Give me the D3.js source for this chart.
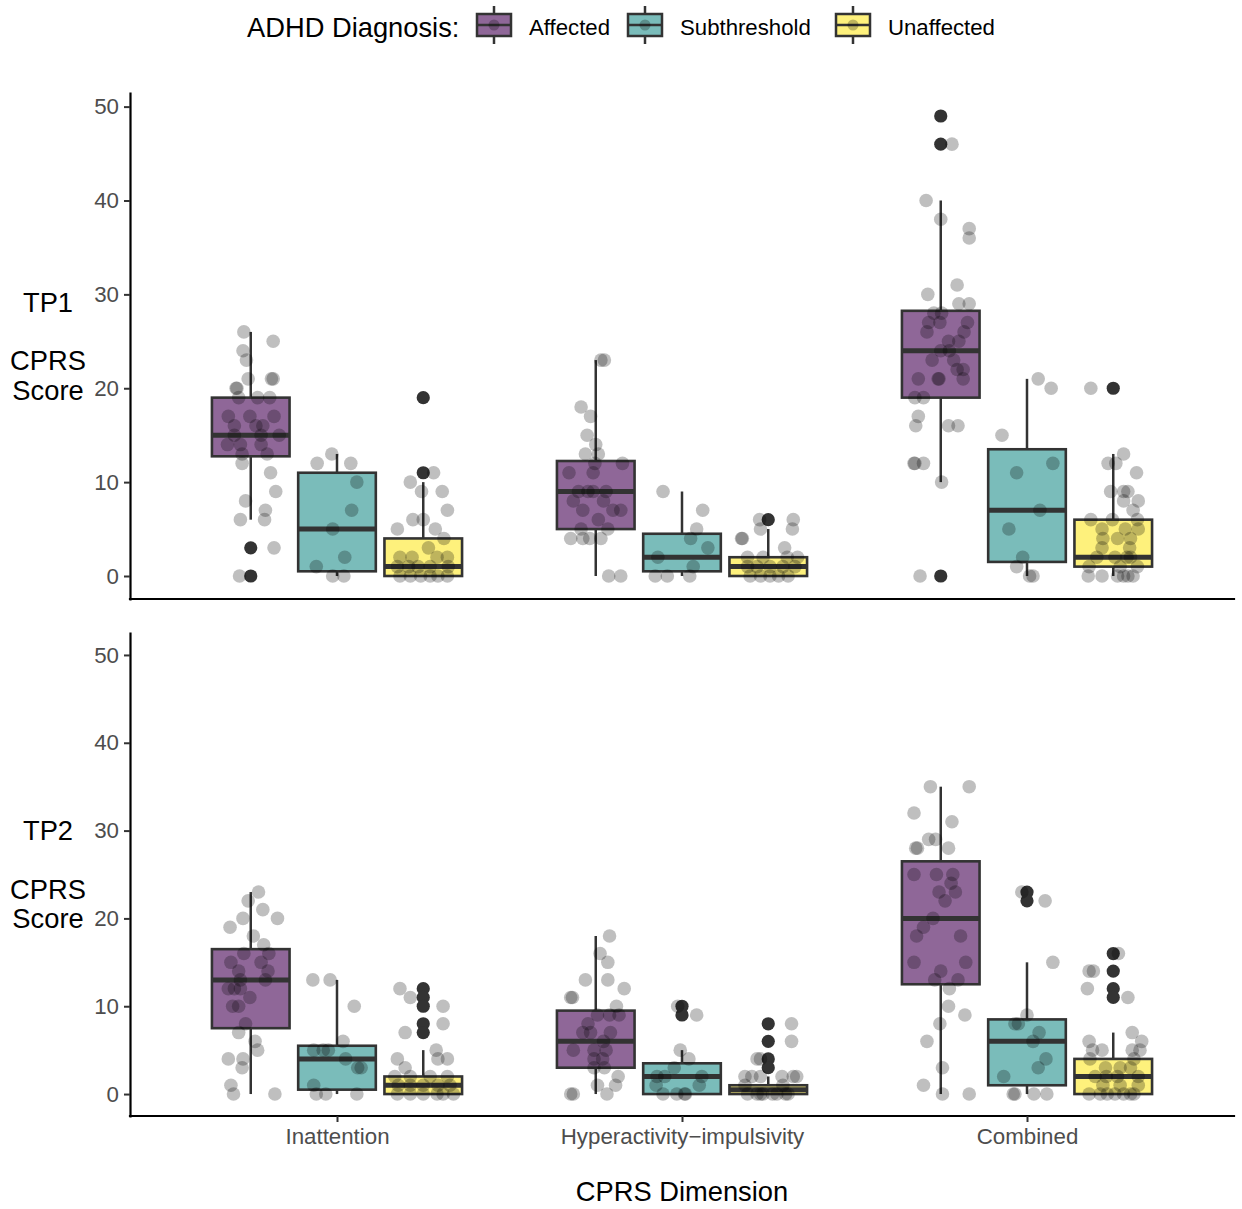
<!DOCTYPE html>
<html><head><meta charset="utf-8">
<script src="https://cdn.jsdelivr.net/npm/d3@7"></script>
<style>
body{margin:0;background:#fff}
svg{display:block}
text{font-family:"Liberation Sans",Arial,Helvetica,sans-serif}
</style>
</head><body>
<svg id="chart" width="1242" height="1209"></svg>
<script>
// ---------------- DATA ----------------
const categories = ["Inattention", "Hyperactivity\u2212impulsivity", "Combined"];
const groups = ["Affected", "Subthreshold", "Unaffected"];
const groupColors = ["#440154", "#21908C", "#FDE725"];
const timepoints = ["TP1", "TP2"];
const yTicks = [0, 10, 20, 30, 40, 50];

// box stats [lower whisker, q1, median, q3, upper whisker], order: category x group
const tp1Boxes = [
  [6, 12.75, 15, 19, 26], [0, 0.5, 5, 11, 13], [0, 0, 1, 4, 10],
  [0, 5, 9, 12.25, 23], [0, 0.5, 2, 4.5, 9], [0, 0, 1, 2, 5],
  [10, 19, 24, 28.25, 40], [0, 1.5, 7, 13.5, 21], [0, 1, 2, 6, 13]
];
const tp2Boxes = [
  [0, 7.5, 13, 16.5, 23], [0, 0.5, 4, 5.5, 13], [0, 0, 1, 2, 5],
  [0, 3, 6, 9.5, 18], [0, 0, 2, 3.5, 5], [0, 0, 0.5, 1, 2],
  [0, 12.5, 20, 26.5, 35], [0, 1, 6, 8.5, 15], [0, 0, 2, 4, 7]
];
const tp1Outliers = [[3, 0], [], [19, 11], [], [], [6], [49, 46, 0], [], [20]];
const tp2Outliers = [[], [], [12, 11, 10, 8, 7], [], [10, 9], [8, 6, 4, 3], [], [23, 22], [16, 14, 12, 11]];

// individual scores [value, jitter (fraction of dodge slot)]
const tp1InattentionAffected = [[26,-0.08],[25,0.26],[24,-0.09],[23,-0.05],[21,-0.03],[21,0.24],[21,0.26],[20,-0.17],[20,-0.16],[19,-0.14],[19,0.08],[19,0.22],[17,-0.26],[17,-0.01],[17,0.27],[16,-0.19],[16,0.06],[16,0.14],[15,-0.19],[15,0.12],[15,0.33],[14,-0.27],[14,-0.12],[14,0.12],[13,-0.10],[13,0.19],[12,-0.10],[11,0.23],[9,0.29],[8,-0.06],[7,0.17],[6,-0.12],[6,0.16],[3,0.27],[0,-0.13]];
const tp1InattentionSub = [[13,-0.06],[12,-0.23],[12,0.16],[10,0.23],[7,0.17],[5,-0.05],[2,0.09],[1,-0.24],[0,-0.05],[0,0.08]];
const tp1InattentionUnaff = [[11,0.12],[10,-0.15],[9,-0.02],[9,0.22],[7,0.28],[6,-0.12],[6,0],[5,-0.30],[5,0.14],[4,0.24],[3,0.06],[2,-0.27],[2,-0.13],[2,0.16],[2,0.28],[1,-0.30],[1,-0.17],[1,-0.06],[1,0.08],[1,0.29],[0,-0.27],[0,-0.15],[0,-0.03],[0,0.08],[0,0.17],[0,0.28]];
const tp1HyperAffected = [[23,0.06],[23,0.10],[18,-0.17],[17,-0.06],[15,-0.10],[14,0],[13,-0.12],[13,0.03],[12,-0.01],[12,0.31],[11,-0.31],[11,-0.03],[9,-0.20],[9,-0.09],[9,-0.03],[9,0.12],[8,-0.26],[8,0.09],[7,0.20],[7,0.29],[7,-0.15],[6,0.03],[5,-0.17],[5,0.14],[4,-0.29],[4,-0.15],[4,-0.07],[4,0.06],[0,0.15],[0,0.29]];
const tp1HyperSub = [[9,-0.22],[7,0.24],[5,0.17],[4,0.10],[3,0.30],[2,-0.28],[1,0.13],[0,-0.31],[0,-0.17],[0,0.09]];
const tp1HyperUnaff = [[6,-0.10],[6,0.29],[5,-0.09],[5,0.28],[4,-0.31],[4,-0.30],[3,0.19],[2,-0.24],[2,-0.06],[2,0.22],[2,0.34],[1,-0.24],[1,-0.13],[1,0.02],[1,0.17],[1,0.31],[0,-0.21],[0,-0.09],[0,0.02],[0,0.12],[0,0.23]];
const tp1CombinedAffected = [[46,0.13],[40,-0.17],[38,0],[37,0.33],[36,0.33],[31,0.19],[30,-0.15],[29,0.21],[29,0.33],[28,-0.08],[28,0.01],[27,-0.14],[27,-0.01],[27,0.31],[26,-0.16],[26,0.27],[25,0.09],[25,0.21],[24,0],[24,0.10],[23,-0.10],[23,0.15],[22,0.19],[22,0.26],[21,-0.26],[21,-0.03],[21,-0.02],[21,0.26],[19,-0.30],[19,-0.20],[17,-0.26],[16,-0.29],[16,0.09],[16,0.20],[12,-0.31],[12,-0.30],[12,-0.20],[10,0.01],[0,-0.24]];
const tp1CombinedSub = [[21,0.13],[20,0.28],[15,-0.29],[12,0.30],[11,-0.12],[7,0.15],[5,-0.21],[2,-0.05],[1,-0.12],[0,0.03],[0,0.07]];
const tp1CombinedUnaff = [[20,-0.26],[13,0.12],[12,-0.06],[12,0.03],[11,0.27],[9,-0.03],[9,0.12],[9,0.17],[8,0.12],[8,0.29],[7,0.23],[6,-0.26],[6,-0.01],[6,0.28],[5,-0.13],[5,0.14],[5,0.29],[4,-0.12],[4,0.05],[4,0.20],[3,-0.13],[3,0.19],[2,-0.19],[2,0.02],[2,0.16],[2,0.20],[1,-0.28],[1,0.08],[1,0.28],[0,-0.29],[0,-0.13],[0,0.05],[0,0.12],[0,0.17],[0,0.23]];

const tp2InattentionAffected = [[23,0.09],[22,-0.03],[21,0.14],[20,-0.09],[20,0.31],[19,-0.24],[18,0.03],[17,0.15],[16,-0.08],[16,0.21],[15,-0.23],[15,0.12],[14,-0.14],[14,0.20],[13,-0.12],[13,0.17],[12,-0.26],[12,-0.19],[12,-0.12],[11,-0.01],[10,-0.21],[10,-0.14],[8,-0.06],[7,-0.14],[6,0.05],[5,0.08],[4,-0.26],[4,-0.09],[3,-0.10],[1,-0.23],[0,-0.20],[0,0.28]];
const tp2InattentionSub = [[13,-0.28],[13,-0.08],[10,0.20],[6,0.07],[5,-0.27],[5,-0.16],[5,-0.10],[4,0.10],[3,0.24],[3,0.28],[1,-0.27],[0,-0.24],[0,-0.13],[0,0.23]];
const tp2InattentionUnaff = [[12,-0.27],[11,-0.15],[10,0.23],[8,0.23],[7,-0.21],[5,0.15],[4,-0.30],[4,0.17],[4,0.28],[3,-0.21],[2,-0.33],[2,-0.15],[2,0.08],[2,0.28],[1,-0.29],[1,-0.15],[1,0],[1,0.17],[1,0.31],[0,-0.30],[0,-0.15],[0,0],[0,0.16],[0,0.23],[0,0.35]];
const tp2HyperAffected = [[18,0.16],[16,0.05],[15,0.14],[13,-0.12],[13,0.14],[12,0.33],[11,-0.29],[11,-0.27],[10,0.24],[9,0.02],[9,0.16],[9,0.27],[8,-0.09],[7,-0.15],[7,-0.06],[7,0.17],[6,0.09],[5,-0.26],[5,-0.02],[5,0.12],[4,-0.02],[4,0.08],[3,-0.02],[3,0.10],[2,0.26],[1,0.02],[1,0.23],[0,-0.29],[0,-0.26],[0,0.13]];
const tp2HyperSub = [[10,-0.05],[9,0.17],[5,-0.02],[4,0.08],[3,-0.09],[2,-0.29],[2,-0.20],[2,0.23],[1,-0.30],[1,0.20],[0,-0.22],[0,-0.06],[0,0.03],[0,0.04]];
const tp2HyperUnaff = [[8,0.27],[6,0.27],[4,-0.13],[4,-0.09],[2,-0.27],[2,-0.19],[2,-0.09],[2,0.16],[2,0.29],[2,0.33],[1,-0.27],[1,0.17],[0,-0.24],[0,-0.13],[0,-0.09],[0,-0.06],[0,0.05],[0,0.10],[0,0.20],[0,0.23]];
const tp2CombinedAffected = [[35,-0.12],[35,0.33],[32,-0.31],[31,0.13],[29,-0.14],[29,-0.06],[28,-0.29],[28,-0.27],[28,0.09],[25,-0.31],[25,-0.05],[25,0.14],[24,0.12],[23,0.17],[23,-0.02],[22,0.05],[20,-0.09],[19,-0.20],[18,-0.28],[18,0.23],[15,-0.31],[15,0.29],[14,0],[13,-0.07],[13,0.20],[12,0.10],[10,0.09],[9,0.28],[8,-0.01],[6,-0.16],[3,0.02],[1,-0.20],[0,0.02],[0,0.33]];
const tp2CombinedSub = [[23,-0.06],[22,0.21],[15,0.30],[9,0],[8,-0.14],[8,-0.10],[7,0.14],[6,0.07],[4,0.22],[3,0.13],[2,-0.27],[0,-0.16],[0,-0.14],[0,0.08],[0,0.23]];
const tp2CombinedUnaff = [[16,0.06],[14,-0.28],[14,-0.23],[12,-0.30],[11,0.17],[7,0.22],[6,-0.28],[6,0.33],[5,-0.24],[5,-0.13],[5,0.22],[5,0.31],[4,-0.27],[4,0.24],[3,-0.09],[3,0.08],[3,0.20],[2,-0.21],[2,-0.08],[2,0.05],[2,0.29],[1,-0.12],[1,0.08],[1,0.29],[0,-0.28],[0,-0.15],[0,-0.07],[0,0.02],[0,0.12],[0,0.20],[0,0.24]];

const tp1Points = [tp1InattentionAffected, tp1InattentionSub, tp1InattentionUnaff, tp1HyperAffected, tp1HyperSub, tp1HyperUnaff, tp1CombinedAffected, tp1CombinedSub, tp1CombinedUnaff];
const tp2Points = [tp2InattentionAffected, tp2InattentionSub, tp2InattentionUnaff, tp2HyperAffected, tp2HyperSub, tp2HyperUnaff, tp2CombinedAffected, tp2CombinedSub, tp2CombinedUnaff];

// ---------------- LAYOUT ----------------
const FONT_AX = 22.3, FONT_TITLE = 27.3, FONT_LEG = 22.2;
const DARK = "#333333", TICKTXT = "#4D4D4D";
const svg = d3.select("#chart");
const plotLeft = 130, plotRight = 1234;

const x = d3.scalePoint().domain(categories).range([plotLeft, plotRight]).padding(0.6);
const dodge = x.step() * 0.75;
const xg = d3.scaleBand().domain(groups).range([-dodge / 2, dodge / 2]);
const slot = xg.bandwidth();
const boxW = slot * 0.9;

const panels = [
  {tp: timepoints[0], top: 93, bottom: 599, domain: [-2.45, 51.45], boxes: tp1Boxes, outliers: tp1Outliers, points: tp1Points, xLabels: false},
  {tp: timepoints[1], top: 633, bottom: 1116, domain: [-2.5, 52.5], boxes: tp2Boxes, outliers: tp2Outliers, points: tp2Points, xLabels: true}
];

panels.forEach(p => {
  const y = d3.scaleLinear().domain(p.domain).range([p.bottom, p.top]);
  const g = svg.append("g");

  // boxes
  categories.forEach((cat, ci) => {
    groups.forEach((grp, gi) => {
      const k = ci * groups.length + gi;
      const [lo, q1, med, q3, hi] = p.boxes[k];
      const cx = x(cat) + xg(grp) + slot / 2;
      const bg = g.append("g");
      bg.append("line").attr("x1", cx).attr("x2", cx).attr("y1", y(hi)).attr("y2", y(q3))
        .attr("stroke", DARK).attr("stroke-width", 2.5);
      bg.append("line").attr("x1", cx).attr("x2", cx).attr("y1", y(q1)).attr("y2", y(lo))
        .attr("stroke", DARK).attr("stroke-width", 2.5);
      bg.append("rect").attr("x", cx - boxW / 2).attr("y", y(q3))
        .attr("width", boxW).attr("height", Math.max(0, y(q1) - y(q3)))
        .attr("fill", groupColors[gi]).attr("fill-opacity", 0.6)
        .attr("stroke", DARK).attr("stroke-width", 2.6);
      bg.append("line").attr("x1", cx - boxW / 2).attr("x2", cx + boxW / 2)
        .attr("y1", y(med)).attr("y2", y(med)).attr("stroke", DARK).attr("stroke-width", 5);
      bg.selectAll("circle.out").data(p.outliers[k]).enter().append("circle")
        .attr("class", "out").attr("cx", cx).attr("cy", d => y(d)).attr("r", 6.6).attr("fill", DARK);
    });
  });
  // jittered points
  categories.forEach((cat, ci) => {
    groups.forEach((grp, gi) => {
      const k = ci * groups.length + gi;
      const cx = x(cat) + xg(grp) + slot / 2;
      g.append("g").selectAll("circle").data(p.points[k]).enter().append("circle")
        .attr("cx", d => cx + d[1] * slot).attr("cy", d => y(d[0])).attr("r", 6.8)
        .attr("fill", "#000").attr("fill-opacity", 0.25);
    });
  });

  // y axis
  const ya = svg.append("g").attr("transform", `translate(${plotLeft},0)`)
    .call(d3.axisLeft(y).tickValues(yTicks).tickSize(6).tickSizeOuter(0).tickPadding(5));
  ya.select(".domain").attr("stroke", "#000").attr("stroke-width", 2.2).attr("stroke-linecap", "square");
  ya.selectAll(".tick line").attr("stroke", DARK).attr("stroke-width", 2);
  ya.selectAll(".tick text").attr("fill", TICKTXT).style("font-size", FONT_AX + "px")
    .style("font-family", '"Liberation Sans",Arial,sans-serif');

  // x axis
  const xa = svg.append("g").attr("transform", `translate(0,${p.bottom})`)
    .call(d3.axisBottom(x).tickSize(p.xLabels ? 6 : 0).tickSizeOuter(0).tickPadding(6));
  xa.select(".domain").attr("d", `M${plotLeft},0H${plotRight}`)
    .attr("stroke", "#000").attr("stroke-width", 2.2).attr("stroke-linecap", "square");
  xa.selectAll(".tick line").attr("stroke", DARK).attr("stroke-width", 2);
  xa.selectAll(".tick text").attr("fill", TICKTXT).style("font-size", FONT_AX + "px")
    .style("font-family", '"Liberation Sans",Arial,sans-serif')
    .style("display", p.xLabels ? null : "none");

  // y title (multi-line)
  const lines = [p.tp, "", "CPRS", "Score"];
  const lh = 29.3;
  const mid = (p.top + p.bottom) / 2;
  const t = svg.append("text").attr("text-anchor", "middle").attr("fill", "#000")
    .style("font-size", FONT_TITLE + "px");
  lines.forEach((ln, i) => {
    t.append("tspan").attr("x", 48).attr("y", mid + (i - (lines.length - 1) / 2) * lh)
      .attr("dy", "0.35em").text(ln);
  });
});

// x title
svg.append("text").attr("x", (plotLeft + plotRight) / 2).attr("y", 1191).attr("dy", "0.35em")
  .attr("text-anchor", "middle").style("font-size", FONT_TITLE + "px").attr("fill", "#000")
  .text("CPRS Dimension");

// legend
const leg = svg.append("g");
leg.append("text").attr("x", 247).attr("y", 27).attr("dy", "0.35em")
  .style("font-size", FONT_TITLE + "px").attr("fill", "#000").text("ADHD Diagnosis:");
const keyX = [477, 628, 836];
groups.forEach((grp, i) => {
  const kx = keyX[i], kw = 34, top = 14, bot = 36, kc = kx + kw / 2;
  leg.append("line").attr("x1", kc).attr("x2", kc).attr("y1", 6).attr("y2", top).attr("stroke", DARK).attr("stroke-width", 2.5);
  leg.append("line").attr("x1", kc).attr("x2", kc).attr("y1", bot).attr("y2", 44).attr("stroke", DARK).attr("stroke-width", 2.5);
  leg.append("rect").attr("x", kx).attr("y", top).attr("width", kw).attr("height", bot - top)
    .attr("fill", groupColors[i]).attr("fill-opacity", 0.6).attr("stroke", DARK).attr("stroke-width", 2.5);
  leg.append("line").attr("x1", kx).attr("x2", kx + kw).attr("y1", 25).attr("y2", 25).attr("stroke", DARK).attr("stroke-width", 2.5);
  leg.append("circle").attr("cx", kc).attr("cy", 25).attr("r", 5.5).attr("fill", "#000").attr("fill-opacity", 0.25);
  leg.append("text").attr("x", kx + kw + 18).attr("y", 27).attr("dy", "0.35em")
    .style("font-size", FONT_LEG + "px").attr("fill", "#000").text(grp);
});
</script>
</body></html>
